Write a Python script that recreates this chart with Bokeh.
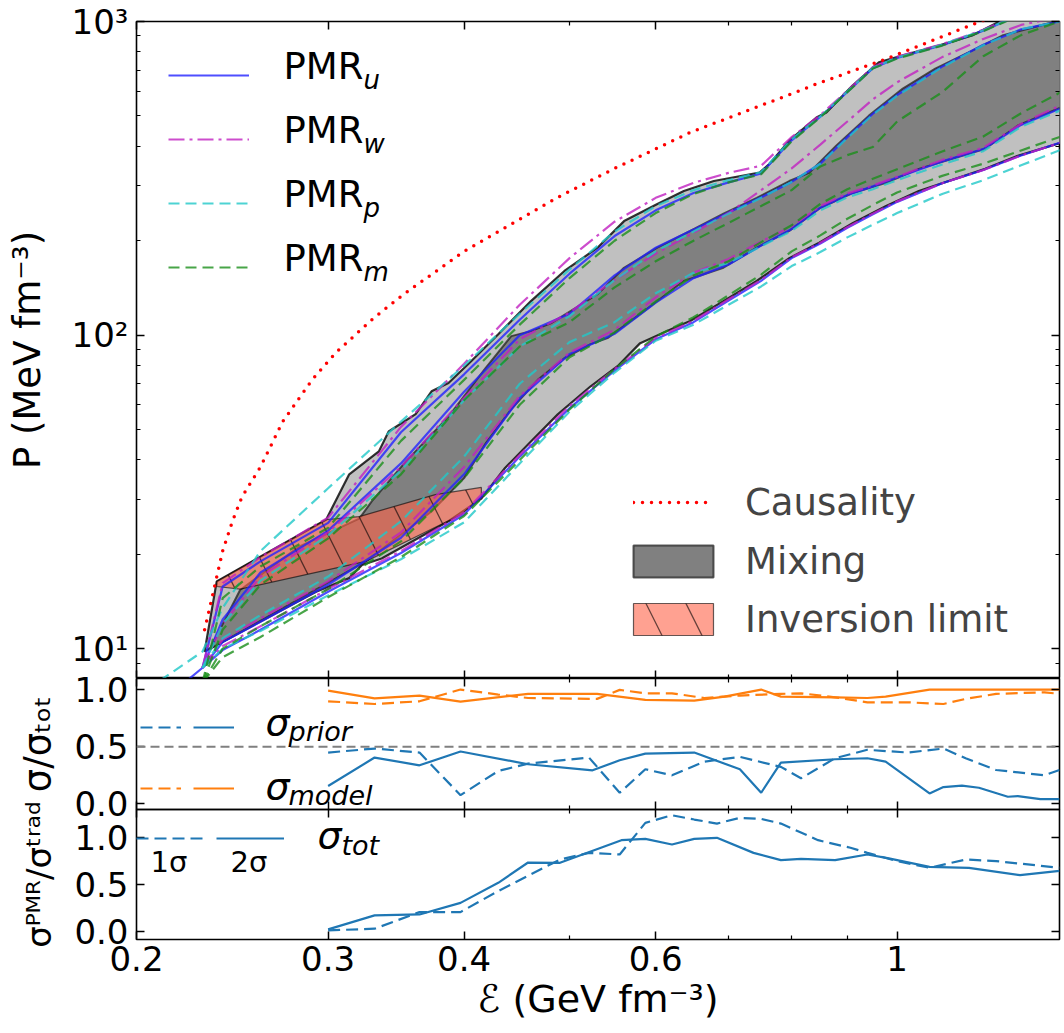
import numpy as np
from bokeh.plotting import figure
from bokeh.layouts import column
from bokeh.models import (Range1d, LogAxis, LinearAxis, FixedTicker, Legend, LegendItem,
                          Label, Span, CustomJSTickFormatter)
from bokeh.embed import file_html
from bokeh.resources import INLINE

nan = np.nan

# ====================== DATA ======================
# causality limit
eps_causal = [0.231, 0.2346, 0.24, 0.245, 0.25, 0.26, 0.2725, 0.29, 0.305, 0.33, 0.351, 0.40,
              0.4877, 0.55, 0.6456, 0.7915, 0.843, 0.977, 1.188, 1.25]
p_causal = [11.5, 14.5, 20.5, 25.5, 30.5, 38, 53, 72, 88, 113, 134, 185,
            275, 340, 443, 580, 632, 760, 995, 1060]

# mixing envelope: outer (2 sigma) band
eps_outer_up = [0.231, 0.237, 0.2987, 0.3137, 0.334, 0.341, 0.361, 0.3734, 0.387, 0.406, 0.43,
                0.4608, 0.4946, 0.5305, 0.5612, 0.6021, 0.6368, 0.6785, 0.7475, 0.7634, 0.796,
                0.843, 0.861, 0.91, 0.962, 1.011, 1.092, 1.172, 1.238, 1.42]
p_outer_up = [9.8, 16.4, 25.8, 36.0, 42.6, 49.3, 56.0, 66.2, 70.4, 82.6, 100.7,
              128.4, 160.2, 190, 231, 262, 288, 310, 330, 352, 417,
              494, 513, 625, 741, 779, 838, 902, 995, 1250]
eps_outer_lo = [0.231, 0.2925, 0.3137, 0.3223, 0.336, 0.387, 0.4149, 0.4362, 0.4608, 0.4877,
                0.5229, 0.5535, 0.5806, 0.6236, 0.6455, 0.6925, 0.743, 0.796, 0.848, 0.911,
                0.977, 1.047, 1.205, 1.291, 1.42]
p_outer_lo = [9.8, 15.2, 16.8, 18.5, 19.4, 25.5, 30.1, 37.7, 45.8, 55.9,
              68.7, 79.6, 94.3, 105.3, 110.9, 128.4, 148.8, 176, 197, 228,
              258, 288, 339, 373, 412]
# mixing envelope: inner (1 sigma) band
eps_inner_up = [0.2337, 0.249, 0.2824, 0.3204, 0.329, 0.3537, 0.387, 0.4184, 0.442, 0.4608,
                0.4805, 0.5305, 0.561, 0.602, 0.6455, 0.6925, 0.743, 0.796, 0.83, 0.879,
                0.942, 1.012, 1.084, 1.162, 1.249, 1.387, 1.42]
p_inner_up = [10, 15.4, 21.2, 26.0, 29.5, 39.6, 55, 78.4, 99.3, 103,
              109, 135, 164, 190, 215, 244, 274, 310, 329, 402,
              501, 611, 708, 796, 902, 993, 1010]
eps_inner_lo = [0.2337, 0.2667, 0.325, 0.3734, 0.40, 0.4184, 0.442, 0.4675, 0.4946, 0.5229,
                0.5419, 0.5806, 0.6368, 0.6925, 0.743, 0.796, 0.848, 0.911, 0.977, 1.047,
                1.124, 1.205, 1.291, 1.42]
p_inner_lo = [10, 12.9, 19.0, 27.4, 35, 45, 58, 72, 84.4, 93.6,
              97.8, 116.7, 148.8, 164, 190, 215, 253, 284, 306, 339,
              365, 393, 466, 535]
# inversion limit region
eps_inv = [0.237, 0.2987, 0.3204, 0.3764, 0.4149, 0.4149, 0.3977, 0.325, 0.249, 0.237]
p_inv = [16.4, 25.8, 26.4, 31.0, 32.7, 30.5, 26.8, 19.0, 15.5, 15.8]

# individual PMR bounds on a common energy-density grid (GeV fm^-3)
eps_grid = [0.21, 0.23, 0.24, 0.26, 0.30, 0.35, 0.40, 0.45, 0.50, 0.55, 0.60, 0.65,
            0.70, 0.75, 0.80, 0.85, 0.90, 0.95, 1.0, 1.1, 1.2, 1.3, 1.42]
pmr_u_2s_up = [nan, 8.7, 15.8, 19.0, 25.2, 49, 75, 112, 157, 207, 250, 284, 307, 328, 418, 497, 596, 710, 765, 840, 935, 1055, 1245]
pmr_u_2s_lo = [6.7, 8.7, 9.9, 11.5, 15.2, 20.2, 26.8, 41, 58.5, 77, 97, 110, 129, 149, 176, 196, 220, 243, 266, 305, 336, 374, 414]
pmr_u_1s_up = [nan, 8.7, 12.4, 17.5, 23.8, 39, 66, 100, 117, 155, 190, 217, 246, 275, 308, 352, 428, 508, 583, 718, 843, 944, 1005]
pmr_u_1s_lo = [nan, 8.7, 10.5, 12.2, 16.0, 22.6, 36, 63, 87, 101, 127, 152, 168, 193, 218, 255, 280, 298, 318, 358, 392, 468, 532]

pmr_w_2s_up = [nan, 8.7, 16.2, 19.6, 26.2, 51, 81, 125, 176, 230, 274, 306, 329, 347, 428, 503, 602, 716, 772, 846, 941, 1061, 1251]
pmr_w_2s_lo = [nan, 8.7, 10.2, 11.8, 15.5, 20.5, 27.2, 41.5, 59.5, 78, 98, 111, 130, 150, 177, 197, 221, 244, 267, 305, 336, 374, 413]
pmr_w_1s_up = [nan, 8.7, 12.0, 17.0, 23.5, 38, 63, 97, 118, 150, 182, 212, 245, 290, 340, 405, 480, 565, 640, 770, 880, 975, 1040]
pmr_w_1s_lo = [nan, 8.7, 10.7, 12.5, 16.4, 23.5, 38, 64, 88, 104, 132, 158, 175, 199, 222, 258, 283, 300, 320, 362, 396, 472, 545]

pmr_p_2s_up = [7.9, 9.8, 13.5, 20.5, 32.5, 53, 80, 117, 162, 214, 258, 290, 312, 331, 421, 498, 598, 712, 768, 843, 938, 1058, 1248]
pmr_p_2s_lo = [nan, 8.7, 10.0, 11.4, 14.8, 19.3, 25.3, 39, 57, 76, 96, 108, 125, 143, 166, 184, 205, 225, 245, 282, 312, 348, 392]
pmr_p_1s_up = [nan, 8.7, 12.0, 16.5, 23.0, 37, 62, 92, 115, 150, 185, 214, 244, 274, 308, 352, 425, 505, 580, 715, 840, 945, 1005]
pmr_p_1s_lo = [nan, 8.7, 10.8, 12.8, 17.0, 25.5, 41, 70, 95, 110, 136, 158, 170, 192, 215, 250, 275, 292, 312, 350, 386, 462, 525]

pmr_m_2s_up = [nan, 7.8, 14.5, 18.3, 24.3, 46, 72, 108, 152, 200, 245, 282, 307, 326, 415, 495, 595, 708, 762, 838, 932, 1050, 1235]
pmr_m_2s_lo = [nan, 7.8, 9.4, 10.9, 14.6, 19.6, 26.5, 40, 58, 78, 99, 114, 134, 156, 185, 208, 235, 260, 285, 322, 352, 388, 432]
pmr_m_1s_up = [nan, 7.8, 11.5, 16.0, 22.5, 36, 62, 92, 110, 142, 172, 200, 228, 258, 290, 345, 375, 398, 480, 595, 775, 905, 1010]
pmr_m_1s_lo = [nan, 7.8, 10.0, 11.8, 15.5, 22.0, 35, 60, 85, 102, 128, 155, 172, 198, 224, 262, 292, 315, 338, 385, 430, 510, 600]

# middle panel: sigma / sigma_tot
eps_prior_2s = [0.300, 0.331, 0.364, 0.397, 0.458, 0.525, 0.556, 0.587, 0.651, 0.717, 0.750, 0.782,
                0.877, 0.939, 0.976, 1.071, 1.103, 1.147, 1.189, 1.264, 1.291, 1.354, 1.41]
prior_2s = [0.156, 0.406, 0.338, 0.459, 0.347, 0.294, 0.382, 0.441, 0.450, 0.303, 0.097, 0.362,
            0.391, 0.400, 0.370, 0.091, 0.147, 0.159, 0.141, 0.062, 0.068, 0.041, 0.041]
eps_prior_1s = [0.300, 0.331, 0.364, 0.397, 0.430, 0.458, 0.521, 0.556, 0.587, 0.621, 0.665, 0.717,
                0.782, 0.816, 0.877, 0.939, 1.023, 1.103, 1.156, 1.233, 1.366, 1.41]
prior_1s = [0.450, 0.485, 0.450, 0.076, 0.288, 0.353, 0.406, 0.097, 0.303, 0.250, 0.370, 0.412,
            0.324, 0.224, 0.400, 0.474, 0.450, 0.485, 0.400, 0.297, 0.250, 0.297]
eps_model_2s = [0.300, 0.331, 0.364, 0.397, 0.458, 0.530, 0.587, 0.651, 0.694, 0.750, 0.782,
                0.877, 0.939, 0.976, 1.071, 1.41]
model_2s = [0.994, 0.926, 0.950, 0.897, 0.965, 0.965, 0.912, 0.906, 0.941, 1.003, 0.941,
            0.935, 0.929, 0.941, 1.003, 1.003]
eps_model_1s = [0.300, 0.331, 0.364, 0.397, 0.430, 0.458, 0.530, 0.556, 0.587, 0.621, 0.665, 0.717,
                0.782, 0.816, 0.877, 0.939, 1.023, 1.103, 1.156, 1.233, 1.366, 1.41]
model_1s = [0.900, 0.876, 0.900, 1.003, 0.959, 0.929, 0.921, 1.000, 0.970, 0.970, 0.929, 0.950,
            0.965, 0.970, 0.935, 0.891, 0.891, 0.876, 0.921, 0.965, 0.979, 0.965]

# bottom panel: sigma^PMR / sigma^trad
eps_ratio_2s = [0.300, 0.331, 0.364, 0.397, 0.430, 0.458, 0.490, 0.558, 0.587, 0.621, 0.651, 0.683,
                0.738, 0.782, 0.816, 0.877, 0.939, 0.980, 1.071, 1.164, 1.297, 1.41]
ratio_2s = [0.018, 0.167, 0.177, 0.300, 0.514, 0.730, 0.727, 0.968, 0.982, 0.922, 0.982, 0.993,
            0.833, 0.755, 0.770, 0.755, 0.816, 0.777, 0.684, 0.674, 0.596, 0.642]
eps_ratio_1s = [0.300, 0.331, 0.364, 0.397, 0.430, 0.458, 0.490, 0.521, 0.556, 0.587, 0.621, 0.651,
                0.683, 0.717, 0.750, 0.782, 0.846, 0.906, 0.939, 1.000, 1.071, 1.156, 1.233, 1.41]
ratio_1s = [0.007, 0.025, 0.202, 0.202, 0.426, 0.590, 0.762, 0.833, 0.816, 1.152, 1.234, 1.188,
            1.145, 1.206, 1.195, 1.145, 0.968, 0.887, 0.833, 0.745, 0.674, 0.762, 0.745, 0.674]

x_ticks = [0.2, 0.3, 0.4, 0.6, 1.0]
x_minor = [0.5, 0.7, 0.8, 0.9]
p_ticks = [10, 100, 1000]
p_minor = [9, 20, 30, 40, 50, 60, 70, 80, 90, 200, 300, 400, 500, 600, 700, 800, 900]
frac_ticks = [0.0, 0.5, 1.0]

# ====================== LAYOUT HELPERS ======================
FONT = "DejaVu Sans"
X_LO, X_HI = 0.2, 1.41
P_LO, P_HI = 8.04, 1000.0
M_LO, M_HI = -0.05, 1.10
B_LO, B_HI = -0.09, 1.295
FL, FR = 136.0, 1059.0


def ex(px):
    return X_LO * (X_HI / X_LO) ** ((px - FL) / (FR - FL))


def ty(py):
    return P_HI * (P_LO / P_HI) ** ((py - 21.0) / 657.0)


def my(py):
    return M_HI - (py - 678.0) / 131.0 * (M_HI - M_LO)


def by(py):
    return B_HI - (py - 809.0) / 130.0 * (B_HI - B_LO)


xr = Range1d(X_LO, X_HI)


def make_fig(height, yr, ytype, btop, bbot, transparent):
    p = figure(width=1064, height=height, x_range=xr, y_range=yr,
               x_axis_type="log", y_axis_type=ytype,
               output_backend="svg", toolbar_location=None,
               min_border_left=136, min_border_right=5,
               min_border_top=btop, min_border_bottom=bbot)
    p.grid.visible = False
    p.outline_line_color = "black"
    p.outline_line_width = 1.6
    if transparent:
        p.background_fill_alpha = 0
        p.border_fill_alpha = 0
    else:
        p.background_fill_color = "white"
        p.border_fill_color = "white"
    return p


def style_axis(ax, ticks, minor, fmt_code, show):
    ax.ticker = FixedTicker(ticks=ticks, minor_ticks=minor)
    ax.major_tick_in = 8
    ax.major_tick_out = 0
    ax.minor_tick_in = 4
    ax.minor_tick_out = 0
    ax.major_tick_line_color = "black"
    ax.minor_tick_line_color = "black"
    ax.major_tick_line_width = 1.5
    ax.minor_tick_line_width = 1.2
    ax.axis_line_color = None
    ax.major_label_text_font = FONT
    ax.major_label_text_color = "black"
    if show:
        ax.formatter = CustomJSTickFormatter(code=fmt_code)
        ax.major_label_text_font_size = "34px"
        ax.major_label_standoff = 8
    else:
        ax.formatter = CustomJSTickFormatter(code="return '';")
        ax.major_label_text_font_size = "0px"
        ax.major_label_standoff = 0


X_FMT = "return (Math.abs(tick - 1) < 1e-6) ? '1' : tick.toFixed(1);"
P_FMT = "const e = Math.round(Math.log10(tick)); const s = {1: '\u00b9', 2: '\u00b2', 3: '\u00b3'}; return '10' + s[e];"
F_FMT = "return tick.toFixed(1);"


def axis_label(ax, text, standoff, size):
    ax.axis_label = text
    ax.axis_label_text_font = FONT
    ax.axis_label_text_font_size = size
    ax.axis_label_text_font_style = "normal"
    ax.axis_label_text_color = "black"
    ax.axis_label_standoff = standoff


def add_label(p, x, y, text, size, style="normal", align="left"):
    p.add_layout(Label(x=x, y=y, text=text, text_font=FONT, text_font_size=size,
                       text_font_style=style, text_baseline="middle",
                       text_align=align, text_color="black"))


def add_frame_axes(p, yticks, yminor, yfmt, y_log):
    ax = LogAxis() if y_log else LinearAxis()
    style_axis(ax, yticks, yminor, yfmt, False)
    p.add_layout(ax, "right")
    ax = LogAxis()
    style_axis(ax, x_ticks, x_minor, X_FMT, False)
    p.add_layout(ax, "above")


# ====================== TOP PANEL ======================
p1 = make_fig(678, Range1d(P_LO, P_HI), "log", 21, 0, False)
style_axis(p1.xaxis[0], x_ticks, x_minor, X_FMT, False)
style_axis(p1.yaxis[0], p_ticks, p_minor, P_FMT, True)
axis_label(p1.yaxis[0], "P (MeV fm\u207b\u00b3)", 20, "37px")
add_frame_axes(p1, p_ticks, p_minor, P_FMT, True)

r_outer = p1.patch(eps_outer_up + eps_outer_lo[::-1], p_outer_up + p_outer_lo[::-1],
                   fill_color="#c0c0c0", line_color="black", line_alpha=0.8, line_width=2.2)
r_inner = p1.patch(eps_inner_up + eps_inner_lo[::-1], p_inner_up + p_inner_lo[::-1],
                   fill_color="#808080", line_color="#1a1a1a", line_alpha=0.7, line_width=2)
r_inv = p1.patch(eps_inv, p_inv, fill_color="tomato", fill_alpha=0.6,
                 line_color="black", line_alpha=0.6, line_width=1.2,
                 hatch_pattern="\\", hatch_color="black", hatch_alpha=0.6,
                 hatch_scale=80, hatch_weight=1.3)

models = [
    ("#2222ff", "solid", [pmr_u_2s_up, pmr_u_2s_lo, pmr_u_1s_up, pmr_u_1s_lo]),
    ("#c020c0", "16 5 3 5", [pmr_w_2s_up, pmr_w_2s_lo, pmr_w_1s_up, pmr_w_1s_lo]),
    ("#20c8c8", "11 6", [pmr_p_2s_up, pmr_p_2s_lo, pmr_p_1s_up, pmr_p_1s_lo]),
    ("#1a8f1a", "11 6", [pmr_m_2s_up, pmr_m_2s_lo, pmr_m_1s_up, pmr_m_1s_lo]),
]
eg = np.array(eps_grid)
model_renderers = []
for color, dash, curves in models:
    first = None
    for c in curves:
        r = p1.line(eg, np.array(c, dtype=float), line_color=color, line_width=2.2,
                    line_alpha=0.8, line_dash=dash)
        if first is None:
            first = r
    model_renderers.append(first)

r_caus = p1.line(eps_causal, p_causal, line_color="red", line_width=3.5,
                 line_dash="0 9", line_cap="round")

ROW0, PITCH = 75, 64
leg_tl = Legend(items=[LegendItem(label=" ", renderers=[r]) for r in model_renderers],
                location=(32, 389), orientation="vertical", glyph_width=81, glyph_height=44,
                label_height=44, label_width=0, spacing=20, padding=0, margin=0,
                label_standoff=0, label_text_font_size="1px",
                border_line_alpha=0, background_fill_alpha=0)
p1.add_layout(leg_tl)
for i, sub in enumerate(["u", "w", "p", "m"]):
    row = ROW0 + PITCH * i
    add_label(p1, ex(283), ty(row - 9), "PMR", "37px")
    add_label(p1, ex(363), ty(row + 4), sub, "26px", "italic")

leg_c = Legend(items=[LegendItem(label="Causality", renderers=[r_caus])],
               location=(497, 154), glyph_width=80, glyph_height=44, label_height=44,
               padding=0, margin=0, label_standoff=32,
               label_text_font=FONT, label_text_font_size="37px",
               border_line_alpha=0, background_fill_alpha=0)
p1.add_layout(leg_c)
leg_mi = Legend(items=[LegendItem(label="Mixing", renderers=[r_inner]),
                       LegendItem(label="Inversion limit", renderers=[r_inv])],
                location=(487, 37), glyph_width=100, glyph_height=40, label_height=44,
                spacing=14, padding=0, margin=0, label_standoff=22,
                label_text_font=FONT, label_text_font_size="37px",
                border_line_alpha=0, background_fill_alpha=0)
p1.add_layout(leg_mi)

# ====================== MIDDLE PANEL ======================
p2 = make_fig(176, Range1d(M_LO, M_HI), "linear", 25, 20, True)
p2.margin = (-25, 0, -20, 0)
style_axis(p2.xaxis[0], x_ticks, x_minor, X_FMT, False)
style_axis(p2.yaxis[0], frac_ticks, [], F_FMT, True)
axis_label(p2.yaxis[0], "\u03c3/\u03c3\u209c\u2092\u209c", 12, "37px")
add_frame_axes(p2, frac_ticks, [], F_FMT, False)

p2.add_layout(Span(location=0.5, dimension="width", line_color="gray",
                   line_dash="9 5", line_width=2))
C0, C1 = "#1f77b4", "#ff7f0e"
r_m2 = p2.line(eps_model_2s, model_2s, line_color=C1, line_width=2.2)
r_m1 = p2.line(eps_model_1s, model_1s, line_color=C1, line_width=2.2, line_dash="12 6")
r_p2 = p2.line(eps_prior_2s, prior_2s, line_color=C0, line_width=2.2)
r_p1 = p2.line(eps_prior_1s, prior_1s, line_color=C0, line_width=2.2, line_dash="12 6")


def pair_legend(p, r_dash, r_solid, loc, gw, sp):
    lg = Legend(items=[LegendItem(label=" ", renderers=[r_dash]),
                       LegendItem(label=" ", renderers=[r_solid])],
                location=loc, orientation="horizontal", glyph_width=gw, glyph_height=10,
                label_height=10, label_width=0, label_standoff=0, spacing=sp,
                padding=0, margin=0, label_text_font_size="1px",
                border_line_alpha=0, background_fill_alpha=0)
    p.add_layout(lg)


pair_legend(p2, r_p1, r_p2, (4, 77), 41, 12)
pair_legend(p2, r_m1, r_m2, (4, 16), 41, 12)
add_label(p2, ex(265), my(721), "\u03c3", "38px", "italic")
add_label(p2, ex(288), my(731), "prior", "27px", "italic")
add_label(p2, ex(265), my(785), "\u03c3", "38px", "italic")
add_label(p2, ex(288), my(795), "model", "27px", "italic")

# ====================== BOTTOM PANEL ======================
p3 = make_fig(254, Range1d(B_LO, B_HI), "linear", 30, 94, True)
p3.margin = (-30, 0, 0, 0)
style_axis(p3.xaxis[0], x_ticks, x_minor, X_FMT, True)
style_axis(p3.yaxis[0], frac_ticks, [], F_FMT, True)
axis_label(p3.yaxis[0], "\u03c3\u1d3e\u1d39\u1d3f/\u03c3\u1d57\u02b3\u1d43\u1d48", 12, "34px")
axis_label(p3.xaxis[0], "\u2130 (GeV fm\u207b\u00b3)", 3, "38px")
p3.xaxis[0].major_label_standoff = 6
add_frame_axes(p3, frac_ticks, [], F_FMT, False)

r_t2 = p3.line(eps_ratio_2s, ratio_2s, line_color=C0, line_width=2.2)
r_t1 = p3.line(eps_ratio_1s, ratio_1s, line_color=C0, line_width=2.2, line_dash="12 6")
pair_legend(p3, r_t1, r_t2, (0, 96), 68, 12)
add_label(p3, ex(150), by(861), "1\u03c3", "29px")
add_label(p3, ex(230), by(861), "2\u03c3", "29px")
add_label(p3, ex(317), by(834), "\u03c3", "38px", "italic")
add_label(p3, ex(341), by(845), "tot", "27px", "italic")

layout = column(p1, p2, p3, spacing=0)
open("out.html", "w").write(file_html(layout, INLINE))
